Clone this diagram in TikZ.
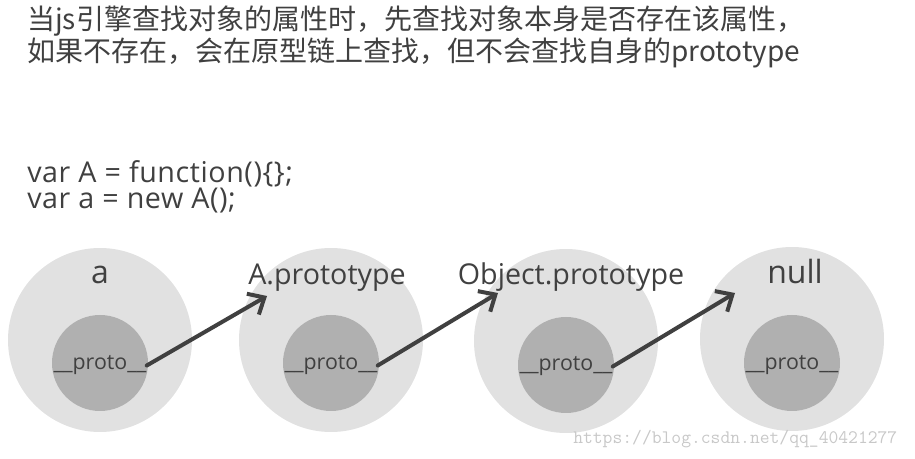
\documentclass[tikz,border=0pt]{standalone}
\usepackage{fontspec}
\setmainfont{Open Sans}
\newfontfamily\cjkfont{Noto Sans CJK SC}
\usetikzlibrary{arrows.meta}
\definecolor{txtgray}{HTML}{404040}
\definecolor{outergray}{HTML}{E1E1E1}
\definecolor{innergray}{HTML}{B0B0B0}
\definecolor{markgray}{HTML}{C8C8C8}

\begin{document}
\begin{tikzpicture}[x=0.75pt,y=-0.75pt,
      objOuter/.style={circle,minimum size=138pt,fill=outergray,inner sep=0pt},
      objInner/.style={circle,minimum size=72pt,fill=innergray,inner sep=0pt},
      protoText/.style={anchor=base,inner sep=0pt,text=txtgray,font=\fontsize{16}{19}\selectfont},
      objLabel/.style={anchor=base,inner sep=0pt,text=txtgray,font=\fontsize{21.5}{26}\selectfont},
      bigLabel/.style={objLabel,font=\fontsize{24}{28}\selectfont},
      headText/.style={anchor=base west,inner sep=0pt,text=txtgray,font=\cjkfont\fontsize{21}{25}\selectfont},
      codeText/.style={anchor=base west,inner sep=0pt,text=txtgray,font=\fontsize{21.5}{25}\selectfont\addfontfeature{LetterSpace=2}},
      chainArrow/.style={-{Straight Barb[length=10pt,width=18pt]},line width=3pt,draw=txtgray,line cap=round},
    ]
    \useasboundingbox (0,0) rectangle (915,459);

    \node[headText] (head1) at (27,30) {当js引擎查找对象的属性时，先查找对象本身是否存在该属性，};
    \node[headText] (head2) at (27,62) {如果不存在，会在原型链上查找，但不会查找自身的prototype};

    \node[codeText] (code1) at (27,183) {var A = function()\{\};};
    \node[codeText] (code2) at (27,209) {var a = new A();};

    % objects
    \node[objOuter] (oa) at (100,340) {};
    \node[objInner] (ia) at (100,363) {};
    \node[bigLabel] (la) at (100,284) {a};
    \node[protoText] (pa) at (100,370) {\_\_proto\_\_};

    \node[objOuter] (ob) at (331,340) {};
    \node[objInner] (ib) at (331,363) {};
    \node[objLabel] (lb) at (327,285) {A.prototype};
    \node[protoText] (pb) at (331,370) {\_\_proto\_\_};

    \node[objOuter] (oc) at (566,341) {};
    \node[objInner] (ic) at (566,365) {};
    \node[objLabel] (lc) at (571,285) {Object.prototype};
    \node[protoText] (pc) at (566,371) {\_\_proto\_\_};

    \node[objOuter] (od) at (792,339) {};
    \node[objInner] (id) at (792,363) {};
    \node[bigLabel] (ld) at (795,284) {null};
    \node[protoText] (pd) at (792,370) {\_\_proto\_\_};

    % links
    \coordinate (ta) at (267,296);
    \coordinate (tb) at (498,293);
    \coordinate (tc) at (735,293);
    \draw[chainArrow] (pa.east) -- (ta);
    \draw[chainArrow] (pb.east) -- (tb);
    \draw[chainArrow] (pc.east) -- (tc);

    \node[anchor=base west,inner sep=0pt,text=markgray,font=\ttfamily\fontsize{14.3}{16}\selectfont] (mark) at (573,444) {https://blog.csdn.net/qq\_40421277};

	\end{tikzpicture}
\end{document}
